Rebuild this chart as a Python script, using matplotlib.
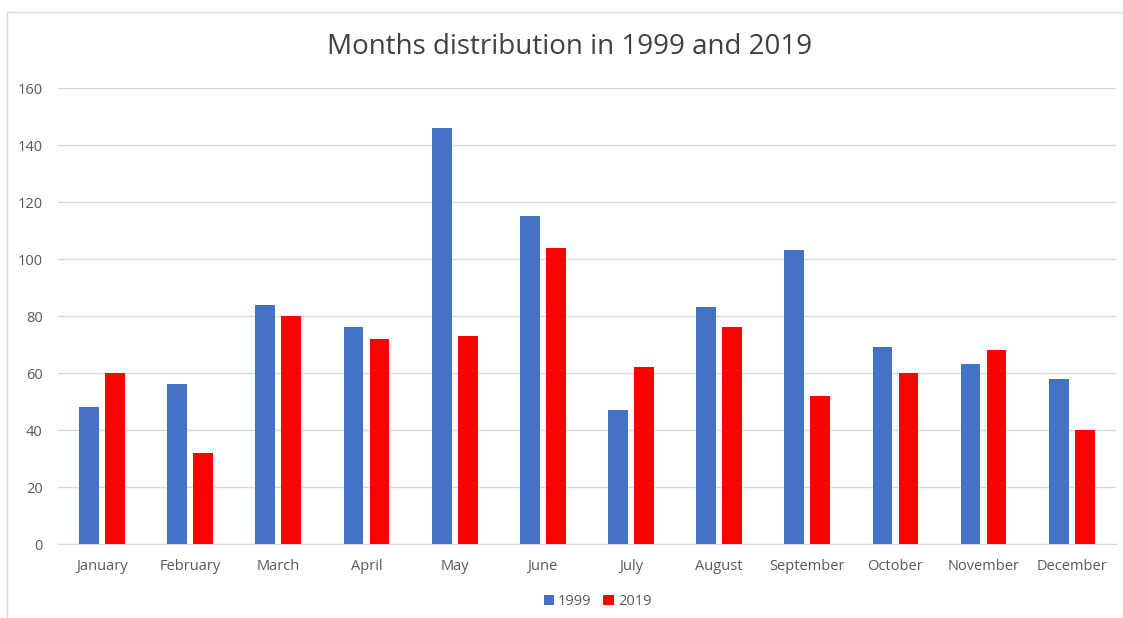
import numpy as np
import matplotlib
matplotlib.use("Agg")
import matplotlib.pyplot as plt
from matplotlib.patches import Rectangle

plt.rcParams["font.family"] = ["Open Sans", "DejaVu Sans"]

# ── Data ───────────────────────────────────────────────────────────────────────
months = ["January", "February", "March", "April", "May", "June",
          "July", "August", "September", "October", "November", "December"]
vals_1999 = [48, 56, 84, 76, 146, 115, 47, 83, 103, 69, 63, 58]
vals_2019 = [60, 32, 80, 72, 73, 104, 62, 76, 52, 60, 68, 40]
y_ticks = [0, 20, 40, 60, 80, 100, 120, 140, 160]

# ── Plot ───────────────────────────────────────────────────────────────────────
fig = plt.figure(figsize=(11.23, 6.18), dpi=100)
ax = fig.add_axes([0.0516, 0.1197, 0.942, 0.7379])

# outer chart frame
fig.patches.append(Rectangle((7 / 1123, -0.01), 1.02, 1 - 12 / 618 + 0.01,
                             transform=fig.transFigure, fill=False,
                             edgecolor="#d9d9d9", linewidth=1.0))

x = np.arange(len(months))
w = 0.225
gap = 0.07
ax.bar(x - (w + gap) / 2, vals_1999, width=w, color="#4472C4", label="1999", zorder=3)
ax.bar(x + (w + gap) / 2, vals_2019, width=w, color="#FF0000", label="2019", zorder=3)

ax.set_xlim(-0.5, len(months) - 0.5)
ax.set_ylim(0, 160)
ax.set_yticks(y_ticks)
ax.set_xticks(x)
ax.set_xticklabels(months)
ax.tick_params(axis="both", length=0, labelsize=10.5, colors="#595959")
ax.tick_params(axis="y", pad=11)
ax.tick_params(axis="x", pad=11)

ax.grid(axis="y", color="#d9d9d9", linewidth=1.0, zorder=0)
for s in ["top", "right", "left"]:
    ax.spines[s].set_visible(False)
ax.spines["bottom"].set_color("#d9d9d9")

fig.text(0.507, 0.924, "Months distribution in 1999 and 2019",
         ha="center", va="center", fontsize=20, color="#404040")

ax.legend(loc="center", bbox_to_anchor=(0.51, -0.127), ncol=2, frameon=False,
          fontsize=10.5, handlelength=0.7, handleheight=0.7, handletextpad=0.3,
          columnspacing=0.8, labelcolor="#595959")

fig.savefig("out.png", dpi=100)
